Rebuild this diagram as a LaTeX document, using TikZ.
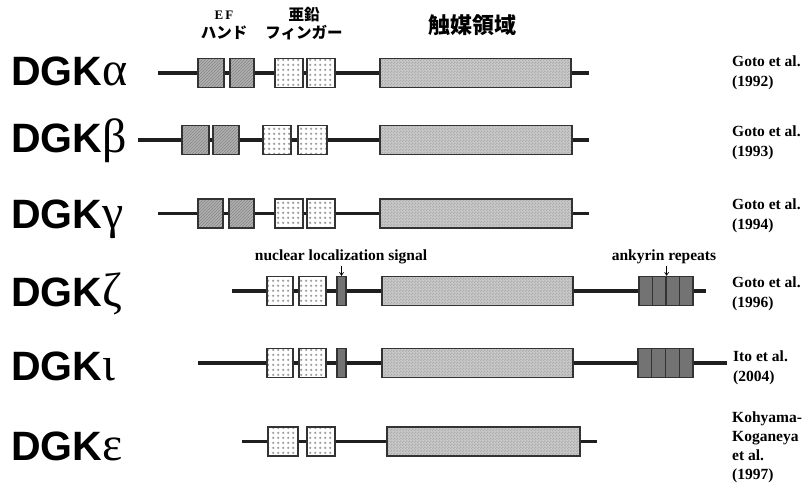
\documentclass[tikz,border=0pt]{standalone}
\usepackage{fontspec}
\setmainfont{Liberation Serif}
\newfontfamily\sansb{Liberation Sans}
\newfontfamily\jp{Noto Sans CJK JP}
\usetikzlibrary{patterns,arrows.meta}
\pgfdeclarepatternformonly{gridots}{\pgfpointorigin}{\pgfpoint{4.6pt}{4.6pt}}{\pgfpoint{4.6pt}{4.6pt}}%
  {\pgfpathcircle{\pgfpoint{2.3pt}{2.3pt}}{1.35pt}\pgfusepath{fill}}
\pgfdeclarepatternformonly{finecheck}{\pgfpointorigin}{\pgfpoint{3pt}{3pt}}{\pgfpoint{3pt}{3pt}}%
  {\pgfpathrectangle{\pgfpointorigin}{\pgfpoint{1.5pt}{1.5pt}}%
   \pgfpathrectangle{\pgfpoint{1.5pt}{1.5pt}}{\pgfpoint{1.5pt}{1.5pt}}\pgfusepath{fill}}
\tikzset{
  backbone/.style={line width=3.6pt, draw=black!88, line cap=butt},
  dombox/.style={draw=black!80, line width=1.2pt, inner sep=0pt, minimum height=29pt},
  efbox/.style={dombox, preaction={fill=gray!62}, pattern=north east lines, pattern color=gray!95},
  znbox/.style={dombox, preaction={fill=white}, pattern=gridots, pattern color=gray!75},
  catbox/.style={dombox, preaction={fill=gray!42}, pattern=finecheck, pattern color=gray!65},
  darkbox/.style={dombox, fill=black!55},
  dgk/.style={anchor=base west, inner sep=0pt, font=\fontsize{41}{46}\selectfont},
  reftext/.style={anchor=north west, inner sep=0pt, align=left, font=\fontsize{15.5}{20}\selectfont\bfseries},
  annot/.style={inner sep=0pt, font=\fontsize{15.5}{18}\selectfont\bfseries},
  jplabel/.style={inner sep=0pt, font=\fontsize{15.5}{18}\selectfont\jp\bfseries},
  pointer/.style={-{Straight Barb[length=3pt,width=4pt]}, line width=0.7pt}
}
\newcommand\dom[5]{\node[#2, minimum width={#4-#3}] (#1) at ({(#3+#4)/2},#5) {};}
\newcommand\gk[1]{{\fontsize{48}{48}\selectfont #1}}
\begin{document}
\begin{tikzpicture}[x=1pt,y=-1pt]
\useasboundingbox (0,0) rectangle (805,487);
\fill[white] (0,0) rectangle (805,487);

% header labels
\node[annot, font=\fontsize{13}{14}\selectfont\bfseries] (hef) at (224,15) {E\kern2pt F};
\node[jplabel] (hhand) at (224,33) {ハンド};
\node[jplabel] (hzn) at (304,15) {亜鉛};
\node[jplabel] (hfing) at (304,33) {フィンガー};
\node[jplabel, font=\fontsize{22}{24}\selectfont\jp\bfseries] (hcat) at (472,25) {触媒領域};

% ---- DGK alpha
\node[dgk] (la) at (11,85) {{\sansb\bfseries DGK}\gk{α}};
\coordinate (a0) at (158,73); \coordinate (a1) at (589,73);
\draw[backbone] (a0) -- (a1);
\dom{aef1}{efbox}{198}{224}{73}
\dom{aef2}{efbox}{230}{254}{73}
\dom{azn1}{znbox}{275}{303}{73}
\dom{azn2}{znbox}{307}{335}{73}
\dom{acat}{catbox}{380}{571}{73}
\node[reftext] (ra) at (732,56) {Goto et al.\\(1992)};

% ---- DGK beta
\node[dgk] (lb) at (11,152) {{\sansb\bfseries DGK}\gk{β}};
\coordinate (b0) at (138,140); \coordinate (b1) at (589,140);
\draw[backbone] (b0) -- (b1);
\dom{bef1}{efbox}{182}{209}{140}
\dom{bef2}{efbox}{213}{239}{140}
\dom{bzn1}{znbox}{263}{291}{140}
\dom{bzn2}{znbox}{298}{327}{140}
\dom{bcat}{catbox}{380}{572}{140}
\node[reftext] (rb) at (732,126) {Goto et al.\\(1993)};

% ---- DGK gamma
\node[dgk] (lc) at (11,228) {{\sansb\bfseries DGK}\gk{γ}};
\coordinate (c0) at (158,213.5); \coordinate (c1) at (589,213.5);
\draw[backbone] (c0) -- (c1);
\dom{cef1}{efbox}{198}{223}{213.5}
\dom{cef2}{efbox}{229}{254}{213.5}
\dom{czn1}{znbox}{275}{303}{213.5}
\dom{czn2}{znbox}{307}{335}{213.5}
\dom{ccat}{catbox}{380}{572}{213.5}
\node[reftext] (rc) at (732,199) {Goto et al.\\(1994)};

% ---- DGK zeta
\node[dgk] (ld) at (11,306) {{\sansb\bfseries DGK}\gk{ζ}};
\coordinate (d0) at (232,291); \coordinate (d1) at (706,291);
\draw[backbone] (d0) -- (d1);
\dom{dzn1}{znbox}{267}{293}{291}
\dom{dzn2}{znbox}{299}{326}{291}
\dom{dnls}{darkbox}{337}{346}{291}
\dom{dcat}{catbox}{382}{573}{291}
\dom{dank1}{darkbox}{639}{652.5}{291}
\dom{dank2}{darkbox}{652.5}{666}{291}
\dom{dank3}{darkbox}{666}{679.5}{291}
\dom{dank4}{darkbox}{679.5}{693}{291}
\node[annot] (nls) at (341,257) {nuclear localization signal};
\node[annot] (ank) at (664,257) {ankyrin repeats};
\draw[pointer] (nls.south -| dnls.north) ++(0,2) -- (dnls.north);
\draw[pointer] (ank.south -| dank2.north east) ++(0,2) -- (dank2.north east);
\node[reftext] (rd) at (732,277) {Goto et al.\\(1996)};

% ---- DGK iota
\node[dgk] (le) at (11,380) {{\sansb\bfseries DGK}\gk{ι}};
\coordinate (e0) at (198,363); \coordinate (e1) at (727,363);
\draw[backbone] (e0) -- (e1);
\dom{ezn1}{znbox}{267}{293}{363}
\dom{ezn2}{znbox}{299}{326}{363}
\dom{enls}{darkbox}{337}{346}{363}
\dom{ecat}{catbox}{382}{573}{363}
\dom{eank1}{darkbox}{638}{651.75}{363}
\dom{eank2}{darkbox}{651.75}{665.5}{363}
\dom{eank3}{darkbox}{665.5}{679.25}{363}
\dom{eank4}{darkbox}{679.25}{693}{363}
\node[reftext] (re) at (733,351) {Ito et al.\\(2004)};

% ---- DGK epsilon
\node[dgk] (lf) at (11,460) {{\sansb\bfseries DGK}\gk{ε}};
\coordinate (f0) at (242,441.5); \coordinate (f1) at (597,441.5);
\draw[backbone] (f0) -- (f1);
\dom{fzn1}{znbox}{268}{298}{441.5}
\dom{fzn2}{znbox}{307}{335}{441.5}
\dom{fcat}{catbox}{387}{580}{441.5}
\node[reftext, font=\fontsize{15.5}{19}\selectfont\bfseries] (rf) at (732,412) {Kohyama-\\Koganeya\\et al.\\(1997)};
\end{tikzpicture}
\end{document}
